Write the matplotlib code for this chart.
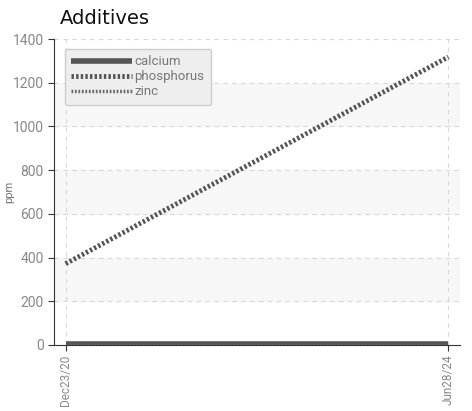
import datetime as dt
import matplotlib
matplotlib.use("Agg")
import matplotlib.pyplot as plt

dates = [dt.date(2020, 12, 23), dt.date(2024, 6, 28)]
tick_labels = ["Dec23/20", "Jun28/24"]
calcium = [4, 4]
phosphorus = [372, 1318]
zinc = [2, 2]

plt.rcParams['font.family'] = ['Roboto', 'DejaVu Sans']

fig = plt.figure(figsize=(4.72, 4.11), dpi=100)
ax = fig.add_axes([0.1144, 0.1606, 0.8602, 0.7445])

# alternate bands
for lo in (200, 600, 1000):
    ax.axhspan(lo, lo + 200, color="#f7f7f7", zorder=0)

ax.plot(dates, calcium, color="#555555", lw=4, solid_capstyle="butt", label="calcium", zorder=3)
ax.plot(dates, phosphorus, color="#555555", lw=3.5, ls=(0, (0.5, 0.45)), label="phosphorus", zorder=3)
ax.plot(dates, zinc, color="#666666", lw=2.5, ls=(0, (0.5, 0.5)), label="zinc", zorder=3)

span = dates[1] - dates[0]
pad = dt.timedelta(days=span.days * 0.031)
ax.set_xlim(dates[0] - pad, dates[1] + pad)
ax.set_ylim(0, 1400)
ax.set_yticks(range(0, 1401, 200))
ax.set_xticks(dates)
ax.set_xticklabels(tick_labels, rotation=90)

ax.grid(True, ls=(0, (4, 4)), color="#d8d8d8", lw=0.8, zorder=1)
for s in ("top", "right"):
    ax.spines[s].set_visible(False)
ax.spines["left"].set_color("#333333")
ax.spines["bottom"].set_color("#333333")
ax.tick_params(axis="both", colors="#333333", labelcolor="#888888", length=4)
ax.tick_params(axis="y", labelsize=10)
ax.tick_params(axis="x", labelsize=8.5, pad=3)

ax.set_ylabel("ppm", color="#777777", fontsize=8)
ax.yaxis.set_label_coords(-0.098, 0.5)
fig.text(0.127, 0.942, "Additives", fontsize=14, family="DejaVu Sans", color="#111111")

leg = ax.legend(loc="upper left", bbox_to_anchor=(0.01, 0.99), fontsize=9.5,
                handlelength=4.6, handletextpad=0.2, labelspacing=0.15,
                fancybox=True, framealpha=1, borderpad=0.5)
leg.get_frame().set_facecolor("#eeeeee")
leg.get_frame().set_edgecolor("#cccccc")
for t in leg.get_texts():
    t.set_color("#777777")

fig.savefig("out.png", dpi=100)
